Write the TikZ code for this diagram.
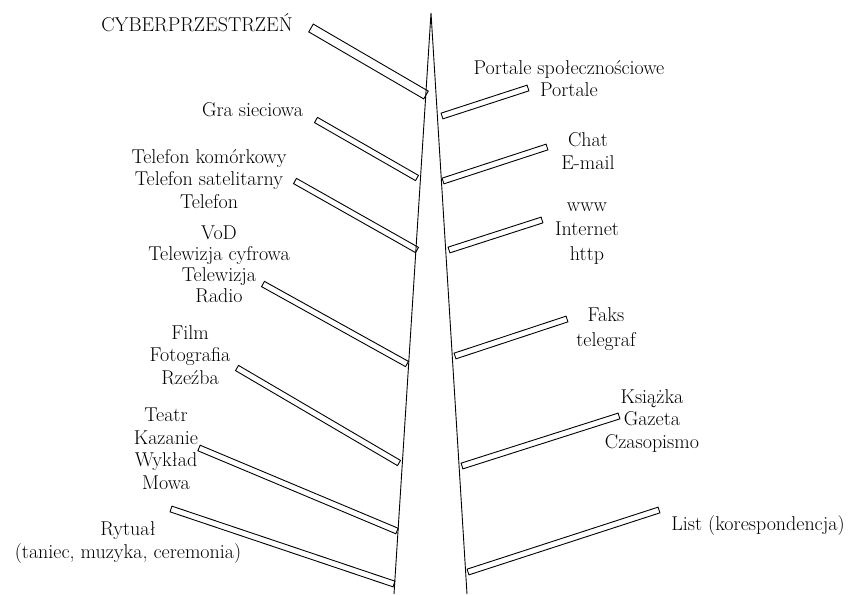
\documentclass[tikz,border=0pt]{standalone}
\usepackage{fontspec}
\setmainfont{Latin Modern Roman}
\usepackage{tikz}
\usetikzlibrary{calc}

\tikzset{
    lbl/.style={align=center, anchor=base, inner sep=0pt, font=\fontsize{20}{22.5}\selectfont},
    plank/.style={line width=0.9pt, line join=miter}
}

\begin{document}
\begin{tikzpicture}[x=1pt, y=-1pt]
    \useasboundingbox (0,0) rectangle (853,594);

    % Trunk
    \coordinate (apex) at (431,13);
    \coordinate (lbase) at (394,594);
    \coordinate (rbase) at (467,594);
    \draw[line width=0.9pt] (lbase) -- (apex) -- (rbase);

    % Planks: start x/y, end x/y, half width
    \foreach \ax/\ay/\bx/\by/\w in {311/28/426/95/4.5, 316/120/417/178/3, 295/181/417/250/3,
        263/284/407/364/3, 237/368/399/463/3, 199/448/397/531/3, 171/509/394/584/3,
        442/116/528/88/3, 443/181/547/147/3, 449/250/542/220/3, 455/356/567/319/3,
        462/466/619/416/3, 468/572/659/510/3} {
        \draw[plank] ($(\ax,\ay)!\w pt!90:(\bx,\by)$) -- ($(\bx,\by)!\w pt!-90:(\ax,\ay)$)
            -- ($(\bx,\by)!\w pt!90:(\ax,\ay)$) -- ($(\ax,\ay)!\w pt!-90:(\bx,\by)$) -- cycle;
    }

    % Left side (anchored at the last line's baseline)
    \node[lbl] (cyber) at (197,31.7) {CYBERPRZESTRZEŃ};
    \node[lbl] (gra) at (252.5,116.7) {Gra sieciowa};
    \node[lbl] (telefon) at (209,208) {Telefon komórkowy\\Telefon satelitarny\\Telefon};
    \node[lbl, font=\fontsize{20}{21}\selectfont] (tv) at (219,302) {VoD\\Telewizja cyfrowa\\Telewizja\\Radio};
    \node[lbl] (film) at (190,384) {Film\\Fotografia\\Rzeźba};
    \node[lbl] (mowa) at (166,489) {Teatr\\Kazanie\\Wykład\\Mowa};
    \node[lbl] (rytual) at (128,558) {Rytuał\\(taniec, muzyka, ceremonia)};

    % Right side
    \node[lbl] (portale) at (569,96.7) {Portale społecznościowe\\Portale};
    \node[lbl] (chat) at (588,169) {Chat\\E-mail};
    \node[lbl, font=\fontsize{20}{24.5}\selectfont] (www) at (587,260) {www\\Internet\\http};
    \node[lbl, font=\fontsize{20}{24.5}\selectfont] (faks) at (606,346) {Faks\\telegraf};
    \node[lbl] (prasa) at (652,448) {Książka\\Gazeta\\Czasopismo};
    \node[lbl] (list) at (758,530) {List (korespondencja)};
\end{tikzpicture}
\end{document}
